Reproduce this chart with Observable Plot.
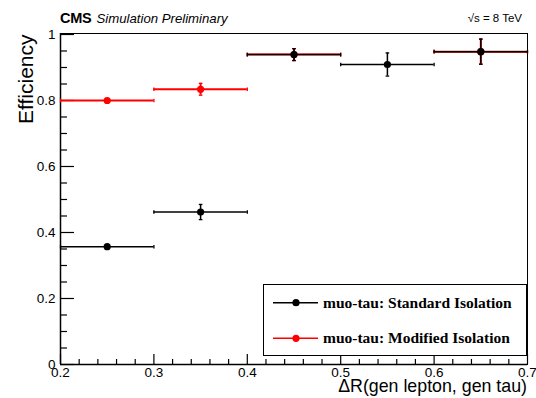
<!DOCTYPE html>
<html><head><meta charset="utf-8">
<script src="https://cdn.jsdelivr.net/npm/d3@7"></script>
<script src="https://cdn.jsdelivr.net/npm/@observablehq/plot@0.6"></script>
<style>
body{margin:0;background:#fff;}
#wrap{position:relative;width:536px;height:398px;overflow:hidden;font-family:"Liberation Sans",Arial,Helvetica,sans-serif;}
#chart svg{display:block;}
#over{position:absolute;left:0;top:0;pointer-events:none;}
</style></head><body>
<div id="wrap"><div id="chart"></div>
<svg id="over" width="536" height="398"></svg>
</div>
<script>
// ---- data ----
const binLo = [0.2, 0.3, 0.4, 0.5, 0.6];
const binHi = [0.3, 0.4, 0.5, 0.6, 0.7];
const stdEff = [0.357, 0.462, 0.939, 0.909, 0.948];
const stdErr = [0.006, 0.023, 0.018, 0.035, 0.038];
const modLo = [0.2, 0.3, 0.4, 0.6];
const modHi = [0.3, 0.4, 0.5, 0.7];
const modEff = [0.800, 0.834, 0.939, 0.948];
const modErr = [0.004, 0.018, 0.018, 0.038];
const seriesNames = ["muo-tau: Standard Isolation", "muo-tau: Modified Isolation"];
const seriesColors = ["#000000", "#ff0000"];
const yMajor = [0, 0.2, 0.4, 0.6, 0.8, 1];
const yMinor = [0.05,0.1,0.15,0.25,0.3,0.35,0.45,0.5,0.55,0.65,0.7,0.75,0.85,0.9,0.95];
const xMajor = [0.2, 0.3, 0.4, 0.5, 0.6, 0.7];
const xMinor = [0.22,0.24,0.26,0.28,0.32,0.34,0.36,0.38,0.42,0.44,0.46,0.48,0.52,0.54,0.56,0.58,0.62,0.64,0.66,0.68];
const yLabels = ["0", "0.2", "0.4", "0.6", "0.8", "1"];
const xLabels = ["0.2", "0.3", "0.4", "0.5", "0.6", "0.7"];

// ---- layout ----
const W = 536, H = 398, mL = 60, mR = 9, mT = 33, mB = 34;
const fw = W - mL - mR, fh = H - mT - mB;

const std = binLo.map((lo, i) => ({lo, hi: binHi[i], c: (lo + binHi[i]) / 2, v: stdEff[i], e: stdErr[i]}));
const mod = modLo.map((lo, i) => ({lo, hi: modHi[i], c: (lo + modHi[i]) / 2, v: modEff[i], e: modErr[i]}));

const vcap = {draw(ctx, size) { const r = Math.sqrt(size / Math.PI); ctx.moveTo(0, -r); ctx.lineTo(0, r); }};
const hcap = {draw(ctx, size) { const r = Math.sqrt(size / Math.PI); ctx.moveTo(-r, 0); ctx.lineTo(r, 0); }};

function seriesMarks(data, color, sw) {
  return [
    Plot.ruleY(data, {y: "v", x1: "lo", x2: "hi", stroke: color, strokeWidth: sw}),
    Plot.ruleX(data, {x: "c", y1: d => d.v - d.e, y2: d => d.v + d.e, stroke: color, strokeWidth: sw}),
    Plot.dot(data, {x: "lo", y: "v", symbol: vcap, r: 1.8, fill: "none", stroke: color, strokeWidth: 1.3}),
    Plot.dot(data, {x: "hi", y: "v", symbol: vcap, r: 1.8, fill: "none", stroke: color, strokeWidth: 1.3}),
    Plot.dot(data, {x: "c", y: d => d.v + d.e, symbol: hcap, r: 1.8, fill: "none", stroke: color, strokeWidth: 1.3}),
    Plot.dot(data, {x: "c", y: d => d.v - d.e, symbol: hcap, r: 1.8, fill: "none", stroke: color, strokeWidth: 1.3}),
    Plot.dot(data, {x: "c", y: "v", r: 3.6, fill: color, stroke: "none"})
  ];
}

const chart = Plot.plot({
  width: W, height: H,
  marginLeft: mL, marginRight: mR, marginTop: mT, marginBottom: mB,
  x: {domain: [0.2, 0.7]},
  y: {domain: [0, 1.003]},
  style: {fontFamily: '"Liberation Sans", Arial, Helvetica, sans-serif', fontSize: "13.5px", color: "#000", background: "#fff"},
  marks: [
    Plot.frame({stroke: "#000", strokeWidth: 1}),
    Plot.ruleX([0.2], {stroke: "#000", strokeWidth: 1.5}),
    Plot.ruleY([0], {stroke: "#000", strokeWidth: 1.5}),
    Plot.tickY(yMinor, {y: d => d, insetRight: fw - 7, stroke: "#000", strokeWidth: 1.2}),
    Plot.tickY(yMajor, {y: d => d, insetRight: fw - 14, stroke: "#000", strokeWidth: 1.2}),
    Plot.tickX(xMinor, {x: d => d, insetTop: fh - 5, stroke: "#000", strokeWidth: 1.2}),
    Plot.tickX(xMajor, {x: d => d, insetTop: fh - 10, stroke: "#000", strokeWidth: 1.2}),
    Plot.axisY(yMajor, {tickSize: 0, tickPadding: 5, label: null, tickFormat: (d, i) => yLabels[i]}),
    Plot.axisX(xMajor, {tickSize: 0, tickPadding: 3, label: null, tickFormat: (d, i) => xLabels[i]}),
    ...seriesMarks(mod, seriesColors[1], 2),
    ...seriesMarks(std, seriesColors[0], 1.5)
  ]
});
document.getElementById("chart").appendChild(chart);

// ---- overlay texts & legend ----
const ns = "http://www.w3.org/2000/svg";
const over = document.getElementById("over");
function el(tag, attrs, text) {
  const e = document.createElementNS(ns, tag);
  for (const k in attrs) e.setAttribute(k, attrs[k]);
  if (text != null) e.textContent = text;
  over.appendChild(e);
  return e;
}
const sans = '"Liberation Sans", Arial, Helvetica, sans-serif';
el("text", {x: 60, y: 23, "font-family": sans, "font-weight": "bold", "font-size": 14.5, "letter-spacing": -0.3}, "CMS");
el("text", {x: 96.5, y: 23, "font-family": sans, "font-style": "italic", "font-size": 13.2}, "Simulation Preliminary");
el("text", {x: 522, y: 22, "font-family": sans, "font-size": 11.5, "text-anchor": "end"}, "\u221As = 8 TeV");
el("text", {transform: "translate(33,124) rotate(-90)", "font-family": sans, "font-size": 21}, "Efficiency");
el("text", {x: 527, y: 392, "font-family": sans, "font-size": 17.8, "text-anchor": "end"}, "\u0394R(gen lepton, gen tau)");

el("rect", {x: 263.5, y: 284.5, width: 263, height: 71, fill: "#fff", stroke: "#000", "stroke-width": 1});
const rows = [302.7, 338.3];
seriesNames.forEach((name, i) => {
  el("line", {x1: 273, x2: 318, y1: rows[i], y2: rows[i], stroke: seriesColors[i], "stroke-width": 1.5});
  el("circle", {cx: 296, cy: rows[i], r: 3.6, fill: seriesColors[i]});
  el("text", {x: 323, y: rows[i] + 5, "font-family": '"Liberation Serif", "Times New Roman", serif', "font-weight": "bold", "font-size": 15.5}, name);
});
</script>
</body></html>
